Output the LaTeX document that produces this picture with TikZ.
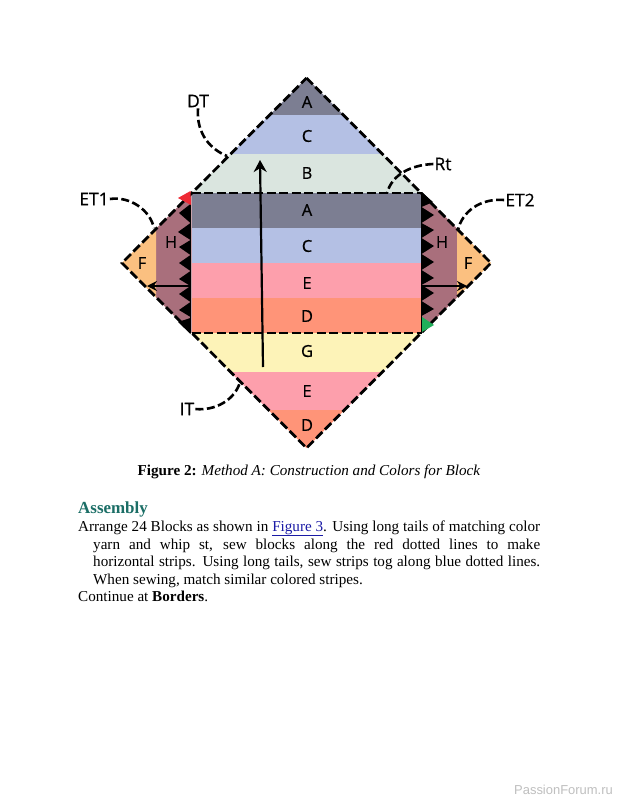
\documentclass[tikz,border=0pt]{standalone}
\usepackage{fontspec}
\setmainfont{Liberation Serif}
\newfontfamily\labelfont[FakeBold=0.6]{Open Sans}
\newfontfamily\markfont{Liberation Sans}
\definecolor{stripeA}{HTML}{7C7E92}
\definecolor{stripeB}{HTML}{DAE5DF}
\definecolor{stripeC}{HTML}{B4C0E4}
\definecolor{stripeD}{HTML}{FF9478}
\definecolor{stripeE}{HTML}{FD9FAC}
\definecolor{stripeF}{HTML}{FBC080}
\definecolor{stripeG}{HTML}{FDF3B8}
\definecolor{stripeH}{HTML}{A96F7C}
\definecolor{heading}{HTML}{1B6E66}
\definecolor{linkblue}{HTML}{1A1AA6}
\definecolor{cornerred}{HTML}{EE2A35}
\definecolor{cornergreen}{HTML}{1FAF5A}
\usetikzlibrary{arrows.meta}

\begin{document}
\begin{tikzpicture}[x=1bp,y=-1bp,>=Stealth,
  stripe/.style={font=\labelfont\fontsize{16.5}{19}\selectfont},
  callout/.style={font=\labelfont\fontsize{17.5}{20}\selectfont,inner sep=1pt},
  seam/.style={line width=2.8bp,dash pattern=on 9bp off 3.5bp},
  leader/.style={line width=2.6bp,dash pattern=on 8bp off 3.5bp},
  grain/.style={->,line width=2.2bp,>={Stealth[length=12bp,width=13bp]}},
  tail/.style={->,line width=1.5bp,>={Stealth[length=10bp,width=10bp]}},
  tooth/.style={fill=black},
  bodyline/.style={anchor=base west,inner sep=0pt,font=\fontsize{15.2}{17}\selectfont}]
\useasboundingbox (0,0) rectangle (618,800);
\fill[white] (0,0) rectangle (618,800);

% top triangle
\fill[stripeA] (306.5,78) -- (343.5,115) -- (269.5,115) -- cycle;
\fill[stripeC] (269.5,115) -- (343.5,115) -- (382.5,154) -- (230.5,154) -- cycle;
\fill[stripeB] (230.5,154) -- (382.5,154) -- (421.5,193) -- (191.5,193) -- cycle;
% centre square
\fill[stripeA] (191.5,193) rectangle (421.5,228);
\fill[stripeC] (191.5,228) rectangle (421.5,263);
\fill[stripeE] (191.5,263) rectangle (421.5,298);
\fill[stripeD] (191.5,298) rectangle (421.5,333);
% bottom triangle
\fill[stripeG] (191.5,333) -- (421.5,333) -- (382.5,372) -- (230.5,372) -- cycle;
\fill[stripeE] (230.5,372) -- (382.5,372) -- (344.5,410) -- (268.5,410) -- cycle;
\fill[stripeD] (268.5,410) -- (344.5,410) -- (306.5,448) -- cycle;
% side triangles
\fill[stripeH] (191.5,193) -- (156,228.5) -- (156,297.5) -- (191.5,333) -- cycle;
\fill[stripeF] (156,228.5) -- (122,263) -- (156,297.5) -- cycle;
\fill[stripeH] (421.5,193) -- (457,228.5) -- (457,297.5) -- (421.5,333) -- cycle;
\fill[stripeF] (457,228.5) -- (491,263) -- (457,297.5) -- cycle;

% left teeth
\draw[line width=1.8bp] (190.5,204) -- (190.5,333);
\fill[tooth] (190.5,204) -- (179,213) -- (190.5,223) -- cycle;
\fill[tooth] (190.5,223) -- (178,232) -- (190.5,240) -- cycle;
\fill[tooth] (190.5,240) -- (179,247) -- (190.5,255) -- cycle;
\fill[tooth] (190.5,255) -- (179,263) -- (190.5,271) -- cycle;
\fill[tooth] (190.5,271) -- (179,279) -- (190.5,286) -- cycle;
\fill[tooth] (190.5,286) -- (179,294) -- (190.5,302) -- cycle;
\fill[tooth] (190.5,302) -- (179,310) -- (190.5,317) -- cycle;
\fill[tooth] (190.5,318) -- (178,322) -- (190.5,334) -- cycle;
% right teeth
\draw[line width=1.8bp] (421.5,193) -- (421.5,333);
\fill[tooth] (421.5,192) -- (433,202) -- (421.5,207) -- cycle;
\fill[tooth] (421.5,207) -- (434,215) -- (421.5,223) -- cycle;
\fill[tooth] (421.5,223) -- (434,230) -- (421.5,238) -- cycle;
\fill[tooth] (421.5,238) -- (434,246) -- (421.5,254) -- cycle;
\fill[tooth] (421.5,254) -- (434,262) -- (421.5,270) -- cycle;
\fill[tooth] (421.5,270) -- (434,278) -- (421.5,285) -- cycle;
\fill[tooth] (421.5,285) -- (434,293) -- (421.5,301) -- cycle;
\fill[tooth] (421.5,301) -- (434,309) -- (421.5,316) -- cycle;

% seams
\draw[seam] (306.5,78) -- (491,263) -- (306.5,448) -- (122,263) -- cycle;
\draw[seam] (191.5,193) -- (421.5,193);
\draw[seam] (191.5,333) -- (421.5,333);

% corner marks
\fill[cornerred] (178,198) -- (190.5,191) -- (191,205) -- cycle;
\fill[cornergreen] (422,317) -- (434,325) -- (422,332) -- cycle;

% stripe letters
\node[stripe] (topA) at (307,102) {A};
\node[stripe] (topC) at (307,136) {C};
\node[stripe] (topB) at (307,173) {B};
\node[stripe] (midA) at (307,210) {A};
\node[stripe] (midC) at (307,246) {C};
\node[stripe] (midE) at (307,283) {E};
\node[stripe] (midD) at (307,316) {D};
\node[stripe] (botG) at (307,351) {G};
\node[stripe] (botE) at (307,391) {E};
\node[stripe] (botD) at (307,425) {D};
\node[stripe] (leftH) at (171,242) {H};
\node[stripe] (leftF) at (142,263) {F};
\node[stripe] (rightH) at (442,242) {H};
\node[stripe] (rightF) at (468,263) {F};

% tails and grain
\coordinate (grainStart) at (263,367);
\coordinate (grainEnd) at (260,160);
\coordinate (leftStart) at (190.5,286);
\coordinate (leftEnd) at (147,286);
\coordinate (rightStart) at (421.5,286);
\coordinate (rightEnd) at (467,286);
\draw[grain] (grainStart) -- (grainEnd);
\draw[tail] (leftStart) -- (leftEnd);
\draw[tail] (rightStart) -- (rightEnd);

% callouts
\node[callout] (DT) at (198,101) {DT};
\node[callout] (ET1) at (94,199) {ET1};
\node[callout] (Rt) at (443,164) {Rt};
\node[callout] (ET2) at (520,200) {ET2};
\node[callout] (IT) at (187,409) {IT};
\coordinate (DTend) at (227,156);
\coordinate (ET1end) at (154,228);
\coordinate (Rtend) at (387,193);
\coordinate (ET2end) at (458,230);
\coordinate (ITend) at (240,382);
\draw[leader] (DT.south) .. controls (196,135) and (212,150) .. (DTend);
\draw[leader] (ET1.east) .. controls (130,196) and (150,210) .. (ET1end);
\draw[leader] (Rt.west) .. controls (410,165) and (392,175) .. (Rtend);
\draw[leader] (ET2.west) .. controls (480,198) and (462,212) .. (ET2end);
\draw[leader] (IT.east) .. controls (215,411) and (235,400) .. (ITend);

% text below
\node[font=\fontsize{15.2}{17}\selectfont,inner sep=0pt] (caption) at (309,472) {\textbf{Figure 2:} \textit{Method A: Construction and Colors for Block}};
\node[anchor=base west,inner sep=0pt,text=heading,font=\bfseries\fontsize{17}{19}\selectfont] (assembly) at (78,513) {Assembly};
\node[bodyline] (lineA) at (78,531) {\hbox to 462bp{Arrange 24 Blocks as shown in {\color{linkblue}\underline{Figure 3}}. Using long tails of matching color}};
\node[bodyline] (lineB) at (93,549) {\hbox to 447bp{yarn and whip st, sew blocks along the red dotted lines to make}};
\node[bodyline] (lineC) at (93,566.5) {\hbox to 447bp{horizontal strips. Using long tails, sew strips tog along blue dotted lines.}};
\node[bodyline] (lineD) at (93,584) {When sewing, match similar colored stripes.};
\node[bodyline] (lineE) at (78,601) {Continue at \textbf{Borders}.};
\node[anchor=base east,inner sep=0pt,text=black!25,font=\markfont\fontsize{13}{15}\selectfont] (watermark) at (613,794) {PassionForum.ru};
\end{tikzpicture}
\end{document}
